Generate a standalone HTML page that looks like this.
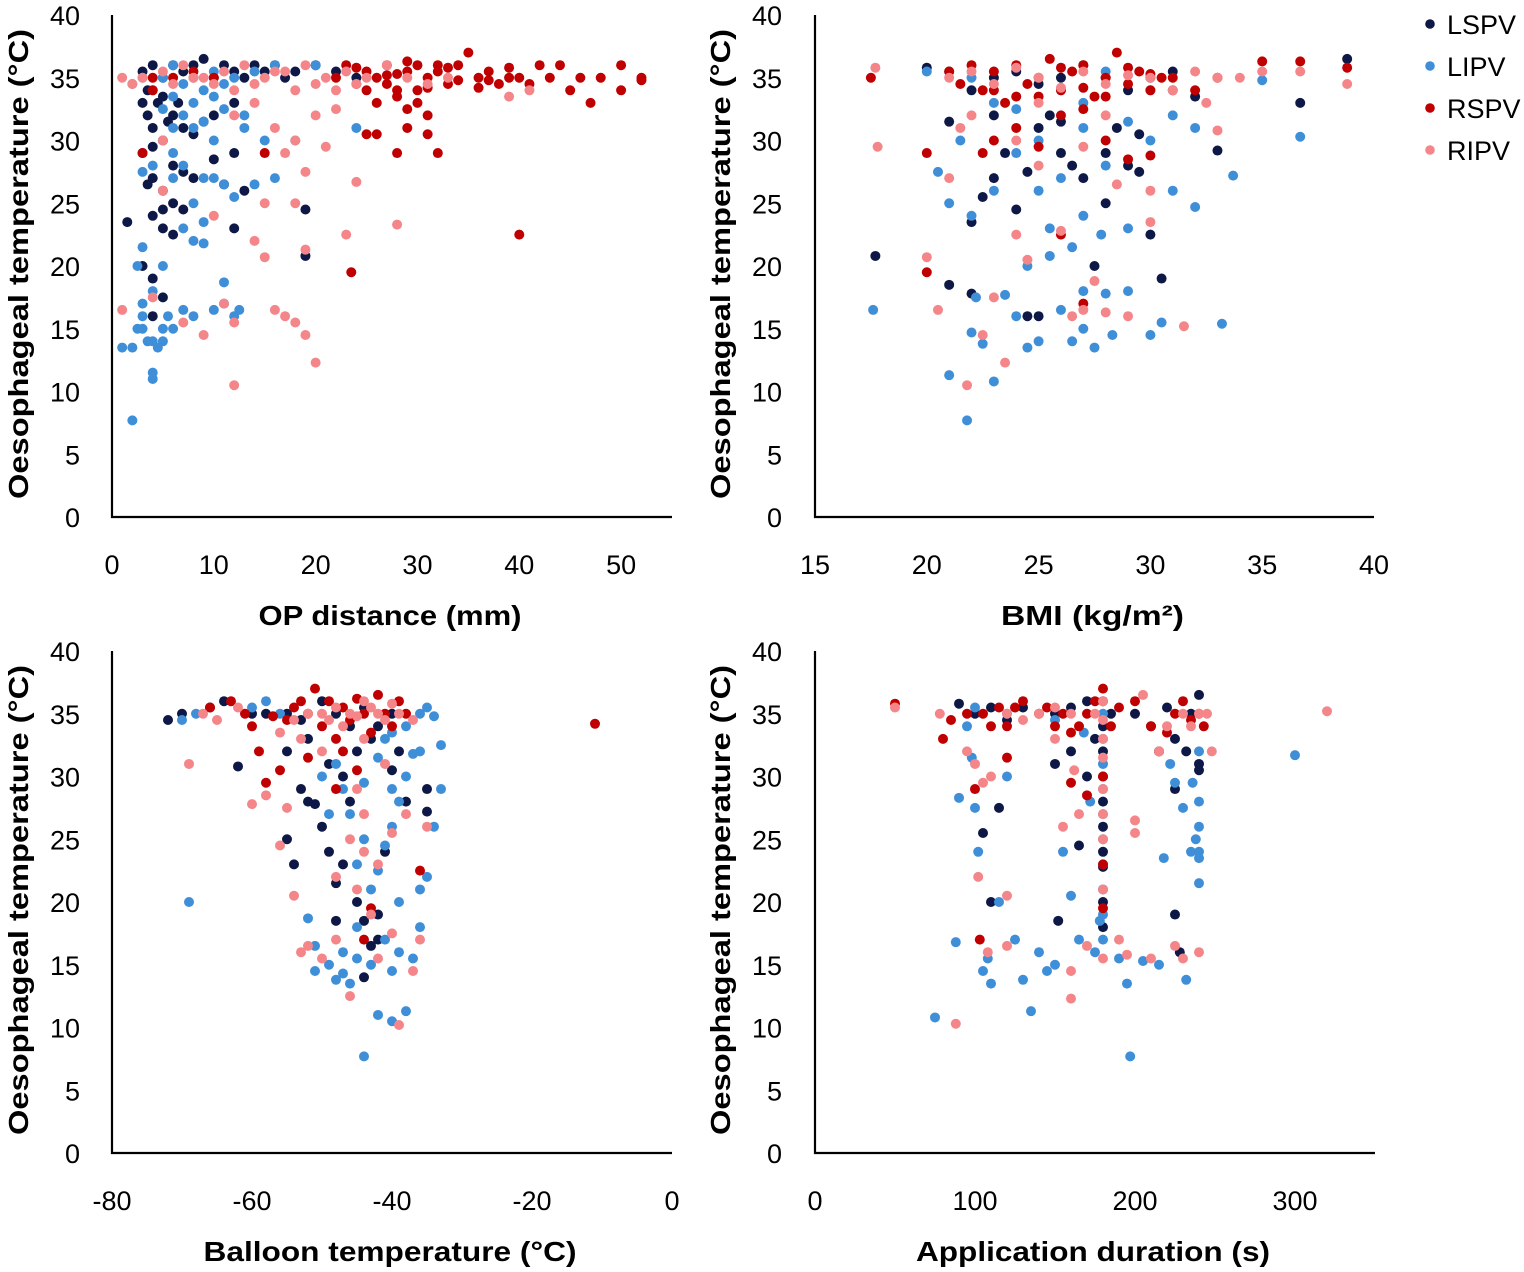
<!DOCTYPE html>
<html><head><meta charset="utf-8"><style>
html,body{margin:0;padding:0;background:#fff}
svg{display:block}
text{font-family:"Liberation Sans",sans-serif;fill:#000}
.tick{font-size:27px}
.title{font-size:28px;font-weight:bold}
.leg{font-size:27px}
</style></head><body>
<svg id="chart" width="1524" height="1272" viewBox="0 0 1524 1272" xmlns="http://www.w3.org/2000/svg"></svg>
<script>
const seriesNames = ["LSPV","LIPV","RSPV","RIPV"];
const seriesColors = ["#0d1847","#3f8fd8","#c00000","#f4868a"];
const yTicks = [0,5,10,15,20,25,30,35,40];
const opTicks = [0,10,20,30,40,50];
const bmiTicks = [15,20,25,30,35,40];
const balloonTicks = [-80,-60,-40,-20,0];
const durTicks = [0,100,200,300];

const opLSPV = [[3,35.5],[4,36],[5,35],[6,36],[7,35.5],[8,36],[9,36.5],[10,35],[11,36],[12,35.5],[13,35],[14,36],[15,35.5],[16,36],[17,35],[18,35.5],[20,36],[22,35.5],[24,35],[3,33],[3.5,32],[4,31],[5,33.5],[6,32],[7,31],[8,30.5],[9,31.5],[3,29],[4,27],[5,26],[6,28],[7,27.5],[8,27],[10,28.5],[11,26.5],[12,29],[4,24],[5,23],[6,25],[7,24.5],[1.5,23.5],[4,19],[5,17.5],[4,16],[12,23],[19,24.5],[19,20.8],[3,20],[13,26],[10,32],[12,33],[5,30],[3.5,34],[4.5,33],[5.5,31.5],[6.5,33],[4,29.5],[3.5,26.5],[5,24.5],[6,22.5]];
const opLIPV = [[1,13.5],[2,13.5],[2,7.7],[3,15],[3,16],[4,11],[4,11.5],[4,14],[5,14],[5,15],[6,15],[7,16.5],[8,16],[10,16.5],[11,17],[11,18.7],[12,16],[12.5,16.5],[2.5,20],[3,21.5],[4,18],[5,20],[8,22],[9,21.8],[7,23],[9,23.5],[10,27],[11,26.5],[12,25.5],[14,26.5],[16,27],[18,30],[24,31],[3,27.5],[4,28],[5,30],[6,31],[7,32],[8,33],[9,31.5],[10,30],[11,32.5],[13,31],[4,34],[5,35],[6,36],[7,34.5],[8,35],[9,34],[10,35.5],[12,35],[14,35.5],[16,36],[20,36],[3,35],[2,34.5],[6,29],[8,25],[9,27],[13,32],[15,30],[3.5,14],[2.5,15],[4.5,13.5],[3,17],[5.5,16],[6,27],[7,28],[5,32.5],[6,33.5],[8,31],[10,33.5],[11,34.5]];
const opRSPV = [[22,35],[23,36],[24,34.5],[25,35.5],[26,35],[27,36],[28,34],[29,35.5],[30,36],[31,35],[32,35.5],[33,34.5],[34,36],[35,37],[36,35],[37,35.5],[38,34.5],[39,35],[40,35],[41,34.5],[42,36],[43,35],[44,36],[45,34],[46,35],[47,33],[48,35],[50,36],[50,34],[52,35],[52,34.8],[26,33],[28,33.5],[29,32.5],[30,33],[31,32],[29,31],[31,30.5],[28,29],[32,29],[25,30.5],[26,30.5],[40,22.5],[23.5,19.5],[15,29],[4,35],[4,34],[3,29],[6,35],[8,35.5],[10,35],[24,35.8],[27,34.5],[33,35.8],[36,34.2],[30,34],[25,34],[28,35.3],[29,36.3],[31,34.2],[32,36],[34,34.8],[37,34.8],[39,35.8],[27,35.2]];
const opRIPV = [[1,35],[2,34.5],[3,35],[5,35.5],[7,36],[9,35],[11,35.5],[13,36],[15,35],[17,35.5],[19,36],[21,35],[23,35.5],[25,35],[27,36],[29,35],[31,34.5],[33,35],[39,33.5],[41,34],[12,32],[14,33],[16,31],[18,30],[17,29],[20,32],[22,32.5],[21,29.5],[24,26.7],[19,27.5],[18,25],[15,25],[10,24],[14,22],[15,20.7],[19,21.3],[23,22.5],[28,23.3],[16,16.5],[17,16],[18,15.5],[19,14.5],[20,12.3],[12,10.5],[11,17],[12,15.5],[9,14.5],[1,16.5],[5,26],[4,17.5],[7,15.5],[5,30],[6,34.5],[8,35],[10,34.5],[12,34],[14,34.5],[16,35.5],[18,34],[20,34.5],[22,34],[24,34.5]];

const bmiLSPV = [[17.7,20.8],[21,18.5],[22,17.8],[22,23.5],[22.5,25.5],[23,27],[23.5,29],[24,24.5],[24.5,27.5],[25,31],[25.5,32],[26,29],[26.5,28],[27,27],[27.5,20],[28,25],[28.5,31],[29,28],[29.5,27.5],[30,22.5],[30.5,19],[31,34],[32,33.5],[33,29.2],[36.7,33],[38.8,36.5],[20,35.8],[21,35.5],[22,34],[23,35],[24,35.5],[25,34.5],[26,35],[27,36],[28,35],[29,34],[30,35],[31,35.5],[21,31.5],[23,32],[25,16],[26,31.5],[28,29],[29.5,30.5],[24.5,16]];
const bmiLIPV = [[17.6,16.5],[20.5,27.5],[21,11.3],[21.5,30],[22,14.7],[22.2,17.5],[22.5,13.8],[23,10.8],[23.5,17.7],[24,16],[24.5,20],[24.5,13.5],[25,14],[25.5,20.8],[25,26],[26,16.5],[26.5,21.5],[26.5,14],[27,18],[27,15],[27.5,13.5],[27.8,22.5],[28,17.8],[28.3,14.5],[29,18],[29,23],[30,14.5],[30.5,15.5],[31,26],[32,24.7],[33.2,15.4],[33.7,27.2],[36.7,30.3],[35,34.8],[32,31],[21,25],[22,24],[23,26],[24,29],[25,30],[26,27],[27,31],[28,28],[29,31.5],[30,30],[20,35.5],[22,35],[26,34],[28,35.5],[30,34],[31,32],[21.8,7.7],[27,24],[25.5,23],[24,32.5],[23,33],[27,33]];
const bmiRSPV = [[17.5,35],[20,29],[20,19.5],[21,35.5],[22,36],[22.5,34],[23,35.5],[23.5,33],[24,36],[24.5,34.5],[25,35],[25.5,36.5],[26,34],[26.5,35.5],[27,36],[27.5,33.5],[28,35],[28.5,37],[29,34.5],[29.5,35.5],[30,34],[30.5,35],[31,35],[32,34],[33,35],[35,36.3],[36.7,36.3],[38.8,35.8],[23,30],[24,31],[25,29.5],[26,22.5],[27,17],[28,30],[29,28.5],[30,28.8],[22.5,29],[26,32],[24,33.5],[27,32.5],[21.5,34.5],[23,34],[25,33.5],[26,35.8],[27,34.2],[28,33.5],[29,35.8],[30,35.3]];
const bmiRIPV = [[17.8,29.5],[17.7,35.8],[20,20.7],[20.5,16.5],[21,27],[21.5,31],[21.8,10.5],[22.5,14.5],[23,17.5],[23.5,12.3],[24,22.5],[24.5,20.5],[25,28],[26,22.8],[26.5,16],[27,16.5],[27.5,18.8],[28,16.3],[28.5,26.5],[29,16],[30,23.5],[30,26],[31.5,15.2],[32.5,33],[33,30.8],[36.7,35.5],[38.8,34.5],[35,35.5],[21,35],[22,35.5],[23,34.5],[24,35.8],[25,35],[26,34.2],[27,35.5],[28,34.5],[29,35.2],[30,35],[31,34],[32,35.5],[33,35],[34,35],[25,33],[28,32],[27,29.5],[24,30],[22,32]];

const balLSPV = [[-72,34.5],[-70,35],[-66,35.5],[-64,36],[-62,30.8],[-58,35],[-55,32],[-55,25],[-54,23],[-53,29],[-52,28],[-51,27.8],[-50,26],[-49,24],[-48,21.5],[-48,18.5],[-47,23],[-46,28],[-45,20],[-44,18.5],[-44,14],[-43,16.5],[-42,19],[-42,17],[-41,24],[-40,30.5],[-39,32],[-38,28],[-35,29],[-35,27.2],[-50,36],[-48,35],[-46,34],[-44,35.5],[-42,34],[-40,35],[-52,33],[-49,31],[-47,30],[-45,32],[-43,33],[-55,35],[-53,34.5],[-60,35]];
const balLIPV = [[-69,20],[-70,34.5],[-68,35],[-52,18.7],[-51,16.5],[-51,14.5],[-49,15],[-48,13.8],[-47,14.3],[-46,13.5],[-45,15.5],[-44,7.7],[-42,11],[-40,10.5],[-40,14.5],[-39,16],[-38,11.3],[-37,15.5],[-36,21],[-35,22],[-34,26],[-33,29],[-33,32.5],[-34,34.8],[-35,35.5],[-36,32],[-37,31.8],[-38,30],[-39,28],[-40,26],[-41,24.5],[-42,22.5],[-43,21],[-44,25],[-45,23],[-46,27],[-47,29],[-48,31],[-50,30],[-49,27],[-44,29.5],[-42,31.5],[-41,33],[-40,33.5],[-38,34],[-36,35],[-56,35],[-58,36],[-60,35.5],[-45,18],[-39,20],[-41,17],[-43,15],[-47,16],[-36,18],[-40,29]];
const balRSPV = [[-66,35.5],[-63,36],[-60,34],[-59,32],[-58,29.5],[-56,30.5],[-55,34.5],[-53,36],[-52,35],[-51,37],[-50,34],[-49,36],[-48,33],[-47,35.5],[-46,34.5],[-45,36.2],[-44,35],[-43,33.5],[-42,36.5],[-41,35],[-40,34],[-39,36],[-38,35],[-48,29],[-45,30.5],[-43,19.5],[-44,17],[-36,22.5],[-11,34.2],[-52,31.5],[-47,32],[-61,35],[-54,35.5],[-57,34.8]];
const balRIPV = [[-69,31],[-67,35],[-65,34.5],[-62,35.5],[-60,27.8],[-58,28.5],[-56,24.5],[-55,27.5],[-54,20.5],[-53,16],[-52,16.5],[-50,15.5],[-48,17],[-46,12.5],[-45,21],[-44,24],[-43,19],[-42,15.5],[-40,17.5],[-39,10.2],[-37,14.5],[-36,17],[-35,26],[-44,27],[-42,23],[-46,25],[-48,22],[-40,25.5],[-38,27],[-50,35],[-49,34.5],[-48,35.5],[-47,34],[-46,35],[-45,34.8],[-44,36],[-43,35.5],[-42,35],[-41,34.5],[-40,35.8],[-39,35],[-37,34.5],[-52,35],[-54,34.5],[-56,33.5],[-53,33],[-50,32],[-44,33],[-41,31],[-45,29]];

const durLSPV = [[90,35.8],[100,35],[105,25.5],[110,20],[115,27.5],[120,34.5],[130,35.5],[150,31],[152,18.5],[160,32],[165,24.5],[170,30],[175,33],[180,36],[180,34],[180,32],[180,30],[180,28],[180,26],[180,24],[180,22.8],[180,20],[180,18],[200,35],[220,35.5],[225,29],[225,19],[228,16],[232,32],[235,35],[240,36.5],[240,31],[240,30.5],[225,33],[210,34],[160,35.5],[170,36],[185,35],[150,35],[110,35.5]];
const durLIPV = [[75,10.8],[88,16.8],[90,28.3],[95,34],[98,31.5],[100,27.5],[102,24],[105,14.5],[108,15.5],[110,13.5],[115,20],[120,30],[125,17],[130,13.8],[135,11.3],[140,16],[145,14.5],[150,15],[155,24],[160,20.5],[165,17],[168,33.5],[172,28],[175,16],[178,18.5],[180,35],[180,33],[180,31],[180,29],[180,27],[180,25],[180,23],[180,21],[180,19],[180,17],[190,15.5],[195,13.5],[197,7.7],[205,15.3],[215,15],[218,23.5],[222,31],[225,29.5],[230,27.5],[232,13.8],[235,24],[240,26],[240,24],[240,23.5],[240,21.5],[240,28],[240,32],[300,31.7],[238,25],[236,29.5],[215,32],[100,35.5],[120,35],[150,34.5]];
const durRSPV = [[50,35.8],[80,33],[85,34.5],[95,35],[100,29],[103,17],[105,35],[110,34],[115,35.5],[120,34],[125,35.5],[130,36],[140,35],[145,35.5],[150,34],[155,35],[160,33.5],[165,34],[170,35],[175,36],[180,37],[180,19.5],[180,23],[180,30],[185,34],[190,35.5],[200,36],[210,34],[215,32],[220,33.5],[225,35],[230,36],[235,34.5],[240,35],[243,34],[120,31.5],[160,29.5],[170,28.5]];
const durRIPV = [[50,35.5],[78,35],[88,10.3],[95,32],[100,31],[102,22],[105,29.5],[108,16],[110,30],[120,35],[120,20.5],[120,16.5],[130,34.5],[140,35],[150,33],[155,26],[160,12.3],[160,14.5],[162,30.5],[165,27],[170,16.5],[175,35],[180,36],[180,34.5],[180,33],[180,31.5],[180,29],[180,27],[180,25],[180,21],[180,15.5],[190,17],[195,15.8],[200,25.5],[200,26.5],[205,36.5],[210,15.5],[215,32],[220,34],[225,16.5],[230,15.5],[235,34],[240,35],[240,16],[245,35],[248,32],[320,35.2],[150,35.5],[160,35],[230,35]];

const NS = "http://www.w3.org/2000/svg";
const svg = document.getElementById("chart");
function mk(tag, attrs, parent, txt){
  const e = document.createElementNS(NS, tag);
  for (const k in attrs) e.setAttribute(k, attrs[k]);
  if (txt !== undefined) e.textContent = txt;
  parent.appendChild(e);
  return e;
}
const panels = [
  {key:"op", x0:112, x1:672, xmin:0, xmax:55, xTicks:opTicks, top:15, bot:517, title:"OP distance (mm)", tl:263, data:[opLSPV,opLIPV,opRSPV,opRIPV], yLabX:80, yTitleX:28},
  {key:"bmi", x0:815, x1:1374, xmin:15, xmax:40, xTicks:bmiTicks, top:15, bot:517, title:"BMI (kg/m²)", tl:183, data:[bmiLSPV,bmiLIPV,bmiRSPV,bmiRIPV], yLabX:782, yTitleX:730},
  {key:"balloon", x0:112, x1:672, xmin:-80, xmax:0, xTicks:balloonTicks, top:651, bot:1153, title:"Balloon temperature (°C)", tl:373, data:[balLSPV,balLIPV,balRSPV,balRIPV], yLabX:80, yTitleX:28},
  {key:"duration", x0:815, x1:1375, xmin:0, xmax:350, xTicks:durTicks, top:651, bot:1153, title:"Application duration (s)", tl:354, data:[durLSPV,durLIPV,durRSPV,durRIPV], yLabX:782, yTitleX:730}
];
panels.forEach(p=>{
  const g = mk("g", {}, svg);
  
  
  const sx = v => p.x0 + (v - p.xmin) / (p.xmax - p.xmin) * (p.x1 - p.x0);
  const sy = v => p.bot - v / 40 * (p.bot - p.top);
  const yt = mk("g", {}, g);
  
  
  yTicks.forEach(t=>{ mk("text", {x:p.yLabX, y:sy(t)+10, "text-anchor":"end", class:"tick"}, yt, t); });
  const xt = mk("g", {}, g);
  
  
  p.xTicks.forEach(t=>{ mk("text", {x:sx(t), y:p.bot+57, "text-anchor":"middle", class:"tick"}, xt, t); });
  const xtitle = mk("text", {x:(p.x0+p.x1)/2 - 2, y:p.bot+108, "text-anchor":"middle", class:"title", textLength:p.tl, lengthAdjust:"spacingAndGlyphs"}, g, p.title);
  
  
  const cy = (p.top + p.bot)/2 - 2;
  const ytitle = mk("text", {x:0, y:0, transform:`translate(${p.yTitleX},${cy}) rotate(-90)`, "text-anchor":"middle", class:"title", textLength:470, lengthAdjust:"spacingAndGlyphs"}, g, "Oesophageal temperature (°C)");
  
  
  const pts = mk("g", {}, g);
  
  
  p.data.forEach((arr, si)=>{
    const sg = mk("g", {fill:seriesColors[si]}, pts);
    
    
    arr.forEach(d=>{ mk("circle", {cx:sx(d[0]), cy:sy(d[1]), r:5}, sg); });
  });
  const yax = mk("line", {x1:p.x0, y1:p.top, x2:p.x0, y2:p.bot+1, stroke:"#000", "stroke-width":2.2}, g);
  
  
  const xax = mk("line", {x1:p.x0-1, y1:p.bot, x2:p.x1, y2:p.bot, stroke:"#000", "stroke-width":2.2}, g);
  
  
});
const lg = mk("g", {}, svg);


seriesNames.forEach((n, i)=>{
  const e = mk("g", {}, lg);
  
  
  const y = 24 + i*42;
  mk("circle", {cx:1430, cy:y, r:4.8, fill:seriesColors[i]}, e);
  mk("text", {x:1447, y:y+10, class:"leg"}, e, n);
});
</script>
</body></html>
